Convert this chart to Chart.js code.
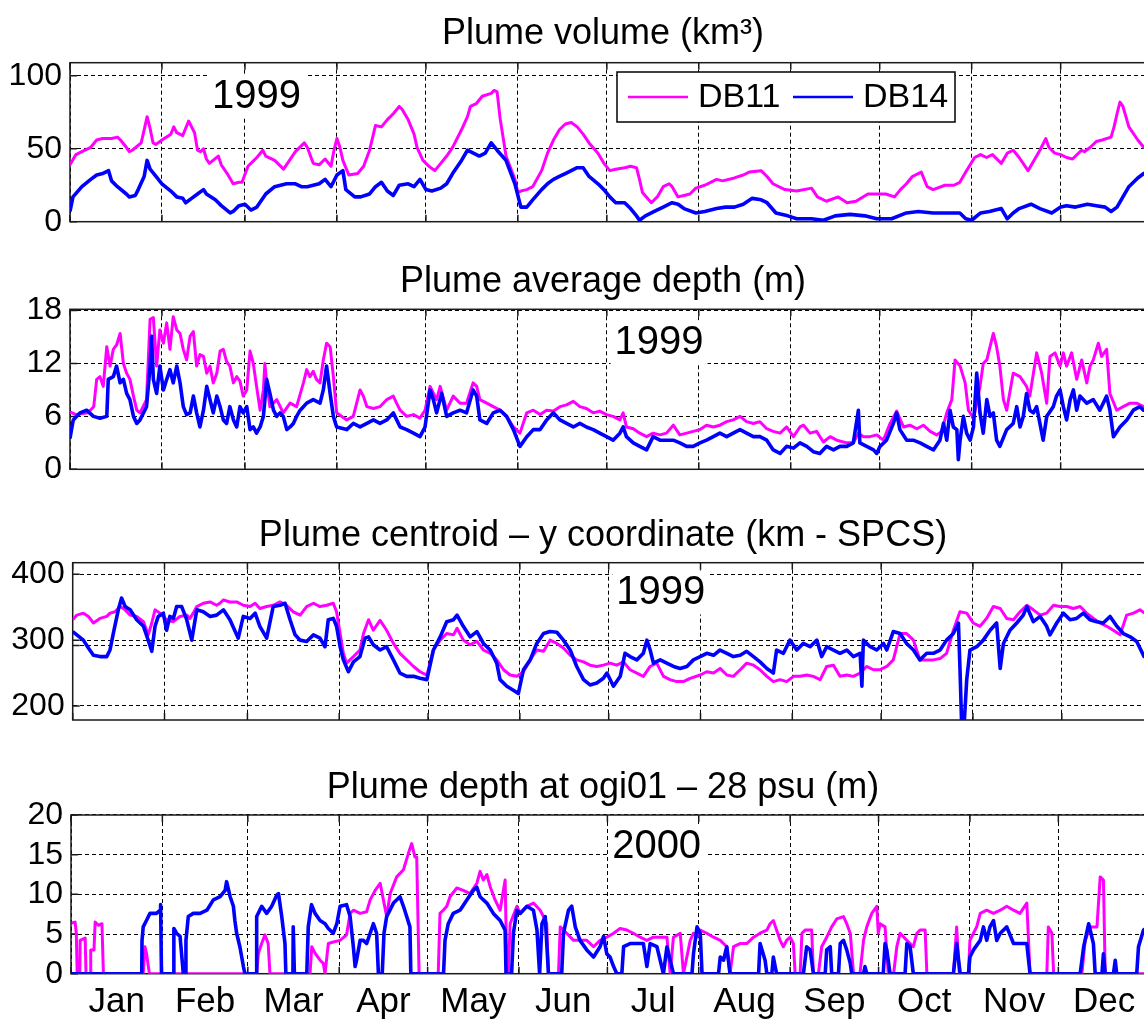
<!DOCTYPE html>
<html lang="en">
<head>
  <meta charset="UTF-8">
  <title>Plume metrics DB11 / DB14</title>
  <style>
    html, body {
      margin: 0;
      padding: 0;
      background: #fff;
      overflow: hidden;
      width: 1144px;
      height: 1023px;
    }
    canvas {
      position: absolute;
      left: 0;
    }
  </style>
</head>
<body>

  <canvas id="volume" width="1206" height="250" style="top:0px"></canvas>
  <canvas id="depth" width="1206" height="250" style="top:250px"></canvas>
  <canvas id="centroid" width="1206" height="255" style="top:500px"></canvas>
  <canvas id="ogi" width="1206" height="268" style="top:755px"></canvas>

  <script src="https://cdn.jsdelivr.net/npm/chart.js"></script>
  <script>
    const FONT = '"Liberation Sans", Arial, sans-serif';

    // x axis: day of year, gridlines at the first of every month
    const months = ['Jan', 'Feb', 'Mar', 'Apr', 'May', 'Jun', 'Jul', 'Aug', 'Sep', 'Oct', 'Nov', 'Dec'];
    const monthStarts1999 = [0, 31, 59, 90, 120, 151, 181, 212, 243, 273, 304, 334, 365];
    const monthStarts2000 = [0, 31, 60, 91, 121, 152, 182, 213, 244, 274, 305, 335, 366];

    const volumeTicks = [0, 50, 100];
    const depthTicks = [0, 6, 12, 18];
    const centroidTicks = [200, 292, 300, 400];
    const centroidTickLabels = ['200', '', '300', '400'];
    const ogiTicks = [0, 5, 10, 15, 20];

    // [day, value] pairs
    const volumeDB11 = [[0,39],[2,46],[4,48],[7,51],[9,56],[11,57],[14,57],[16,58],[17,56],[19,51],[20,48],[21,49],[24,54],[25,63],[26,72],[27,64],[28,54],[29,53],[31,56],[34,60],[35,65],[36,61],[38,59],[40,69],[42,61],[43,49],[44,48],[45,50],[46,43],[47,40],[50,45],[51,39],[53,33],[55,26],[57,27],[58,27],[60,38],[61,40],[63,44],[65,49],[66,45],[69,42],[72,36],[74,42],[76,48],[79,54],[80,51],[82,40],[84,39],[86,43],[88,38],[89,49],[90,57],[91,51],[92,42],[94,32],[97,33],[99,38],[101,49],[103,66],[105,65],[107,70],[109,74],[111,79],[112,77],[114,70],[116,60],[117,51],[119,42],[121,38],[123,35],[125,40],[127,45],[129,51],[132,63],[134,72],[135,79],[137,81],[139,86],[142,88],[143,90],[144,89],[145,71],[146,58],[147,45],[150,29],[151,20],[152,21],[154,22],[156,24],[159,35],[161,47],[163,56],[165,63],[167,67],[169,68],[171,65],[173,60],[175,54],[178,47],[180,40],[182,35],[184,36],[187,37],[189,38],[191,37],[192,29],[193,20],[196,13],[198,17],[200,24],[202,26],[203,24],[205,17],[207,18],[209,19],[211,23],[214,25],[216,27],[218,29],[220,28],[224,30],[227,32],[229,34],[233,35],[235,31],[237,26],[241,22],[245,21],[250,23],[252,17],[255,14],[259,17],[262,13],[265,14],[269,19],[272,19],[275,19],[278,17],[280,22],[282,26],[284,31],[287,34],[289,24],[291,22],[295,25],[298,25],[300,27],[302,34],[305,44],[307,46],[309,44],[311,46],[314,40],[316,47],[318,49],[320,44],[323,35],[325,42],[327,49],[329,57],[330,51],[332,47],[334,46],[336,44],[338,43],[341,49],[342,48],[344,51],[346,55],[348,56],[351,58],[352,65],[353,74],[354,82],[355,79],[356,72],[357,65],[360,56],[362,51],[365,52]];
    const volumeDB14 = [[0,7],[1,17],[4,24],[7,29],[9,32],[11,33],[13,35],[14,28],[16,24],[19,19],[20,17],[22,18],[23,22],[25,31],[26,42],[27,36],[29,31],[31,26],[34,21],[36,17],[38,16],[39,13],[41,16],[43,19],[45,22],[46,19],[49,15],[51,11],[54,6],[55,7],[57,11],[59,12],[61,8],[63,10],[66,19],[69,24],[71,25],[73,26],[76,26],[78,24],[80,24],[84,26],[86,29],[88,24],[90,32],[92,35],[93,22],[96,17],[98,17],[101,19],[103,24],[105,27],[107,21],[109,18],[111,25],[114,26],[116,24],[118,29],[120,22],[122,21],[125,23],[127,26],[129,33],[132,42],[134,49],[136,47],[138,45],[140,47],[142,54],[144,49],[147,42],[150,26],[152,10],[154,10],[156,15],[159,22],[161,26],[163,29],[165,31],[167,33],[169,35],[171,37],[173,37],[175,31],[178,26],[180,22],[182,17],[184,13],[187,13],[189,9],[191,4],[192,1],[194,4],[197,7],[200,10],[203,13],[205,12],[207,9],[211,6],[214,7],[218,9],[221,10],[224,10],[227,12],[230,16],[233,15],[235,13],[238,6],[242,4],[245,2],[250,2],[254,1],[258,4],[263,5],[268,4],[272,2],[277,2],[282,6],[286,7],[291,6],[295,6],[300,6],[302,2],[304,1],[307,6],[310,7],[314,9],[316,2],[318,6],[320,9],[324,12],[327,9],[331,6],[334,10],[336,11],[339,10],[343,12],[346,11],[349,10],[351,7],[353,10],[355,17],[357,24],[360,30],[362,33],[365,36]];

    const depthDB11 = [[0,6.5],[2,6.2],[6,6.4],[8,7.1],[9,10.2],[10.1,10.5],[11.2,9.4],[12.4,13.9],[13.5,11.7],[14.6,13.6],[15.7,14.1],[16.9,15.4],[18,12],[19.1,10.9],[20.2,10.2],[21.4,8.3],[22.5,6.7],[23.6,6.4],[25.8,7.9],[27,17],[28.1,17.2],[29.2,11.7],[30.3,15.8],[31.5,14.3],[32.6,16.6],[33.7,13.6],[34.8,17.3],[36,15.8],[37.1,15.4],[38.2,13.6],[39.3,12.4],[40.5,15.1],[41.6,15.6],[42.7,11.7],[43.8,13],[45,12.8],[46.1,10.9],[47.2,11.7],[48.3,9.8],[49.5,10.9],[50.6,13.4],[51.7,13.6],[52.8,12.2],[53.9,11.7],[55.1,9.8],[56.2,10.5],[57.3,10],[58.4,8.3],[59.6,9],[60.7,13.4],[61.8,12],[62.9,9.4],[64.1,6.7],[65.2,9],[65.7,12],[66.3,9.8],[67.4,7.1],[69.7,7.9],[71.9,6.4],[74.2,7.5],[76.4,7.1],[78.7,9.8],[79.8,11.3],[80.9,10.5],[82,11.1],[83.1,10.2],[84.3,9.8],[85.4,12.4],[86.5,14.3],[87.7,13.9],[88.8,10.5],[89.9,6.4],[93.3,5.6],[95.5,6],[97.8,9],[98.9,8.3],[100.1,7.1],[102.3,6.9],[104.5,7.1],[106.8,7.9],[109,8.3],[110.1,7.5],[111.3,6.7],[113.5,6],[115.8,6.2],[118,5.8],[119.7,6.7],[121.4,9.4],[123.6,7.9],[124.8,9.4],[127,6.7],[129.2,8.3],[131.5,7.5],[133.7,7.5],[135.9,9.8],[137.1,9.4],[138.2,7.9],[140.5,7.5],[142.7,7.1],[145,6.7],[147.2,6],[149.5,4.8],[151.7,4.1],[154,6.4],[156.2,6.7],[158.5,6.2],[160.7,6.7],[163,6.6],[165.2,7.1],[167.4,7.3],[169.7,7.7],[171.9,7.1],[174.1,6.9],[176.4,6.4],[178.6,6.6],[180.9,6.2],[183.1,6],[185.4,5.6],[186.5,6.4],[187.6,4.8],[189.9,4.6],[192.1,4.1],[194.4,3.7],[196.6,4.1],[198.9,3.9],[201.1,4.1],[203.4,5],[205.6,3.9],[207.9,4.1],[210.1,4.3],[212.4,4.5],[214.6,5],[216.9,4.8],[219.1,5],[221.4,5.4],[223.6,5.6],[225.9,6],[228.1,5.4],[230.4,5.2],[232.6,5.4],[234.9,4.6],[237.1,4.3],[239.4,4.1],[241.6,4.8],[243.9,3.7],[246.1,4.8],[247.3,5],[249.5,4.1],[251.7,4.3],[254,3.1],[256.3,3.7],[258.5,3.3],[261.9,3],[264.1,3],[265.8,4.1],[267.5,3.7],[269.7,3.7],[272,3.9],[274.2,3.3],[276.5,5.2],[278.7,6.6],[281,4.8],[283.2,5],[285.5,4.6],[287.7,5],[290,4.3],[292.2,3.9],[293.9,4.3],[295.6,6.4],[297.3,7.9],[298.4,12.4],[300.1,11.7],[301.8,9.8],[302.9,6.7],[304.6,5.8],[305.7,7.5],[306.8,9.4],[307.9,12],[309.1,12.4],[310.2,13.9],[311.3,15.4],[312.4,13.9],[313.5,11.7],[314.7,7.9],[315.8,6.7],[318,10.9],[320.3,10.5],[322.5,9.4],[323.6,8.3],[325.9,13.2],[327.6,10.9],[329.3,7.5],[330.4,12.8],[332.1,13.2],[333.8,11.7],[334.9,13.2],[336,11.7],[337.7,13.2],[339.4,10.2],[341.1,12.4],[342.8,9.8],[343.9,11.7],[345,12.4],[346.7,14.3],[347.8,12.8],[349.5,13.6],[350.6,8.6],[352.9,6.7],[355.1,7.1],[357.4,7.5],[359.6,7.5],[361.9,7.1],[365,7]];
    const depthDB14 = [[0,3.5],[0.5,4.5],[1.1,5.6],[3.4,6.4],[5.6,6.7],[7.9,6],[10.1,5.8],[12.4,6],[12.9,10.2],[14.6,10.5],[15.7,11.7],[16.9,9.8],[18,10.2],[19.1,8.6],[20.2,7.9],[21.4,6],[22.5,5.2],[23.6,5.6],[25.8,7.1],[27,11.7],[27.5,15.1],[28.1,10.2],[29.2,8.6],[30.3,11.7],[31.5,9],[32.6,10.2],[33.7,11.3],[34.8,9.8],[36,11.7],[37.1,9.8],[38.2,7.1],[39.3,6.2],[40.5,6.4],[41.6,8.3],[42.7,6.4],[43.8,4.8],[45,6.7],[46.1,9.4],[47.2,7.9],[48.3,6.4],[49.5,8.3],[50.6,7.1],[51.7,5.6],[52.8,5.2],[53.9,7.1],[55.1,5.6],[56.2,4.8],[57.3,7.1],[58.4,6.4],[59.6,7.1],[60.7,4.5],[61.8,4.8],[62.9,4.1],[64.1,4.8],[65.2,6],[66.3,10.2],[67.4,8.6],[68.6,6.7],[69.7,6],[70.8,6.4],[71.9,6],[73.1,4.5],[74.2,4.8],[75.3,5.2],[76.4,6],[77.6,6.7],[78.7,7.1],[79.8,7.5],[82,7.9],[84.3,7.5],[85.4,9],[86.5,11.7],[87.7,8.6],[88.8,6],[89.9,4.8],[93.3,4.5],[95.5,5.2],[97.8,4.8],[100.1,5.2],[102.3,5.6],[104.5,5.2],[106.8,5.6],[109,6.4],[111.3,4.8],[113.5,4.5],[115.8,4.1],[118,3.7],[119.7,4.8],[121.4,9],[122.5,7.9],[123.6,6.4],[125.3,8.6],[127,6],[129.2,6.4],[131.5,6.7],[133.7,6.4],[135.9,9],[137.1,8.3],[138.2,5.6],[140.5,5.2],[142.7,6.4],[145,6.7],[147.2,6],[149.5,4.5],[151.7,2.6],[154,3.7],[156.2,4.5],[158.5,4.5],[160.7,5.6],[163,6.4],[165.2,5.6],[167.4,5.2],[169.7,4.8],[171.9,5.2],[174.1,4.8],[176.4,4.5],[178.6,4.1],[180.9,3.7],[183.1,3.3],[185.4,4.1],[186.5,4.8],[187.6,3.7],[189.9,3],[192.1,2.6],[194.4,2.2],[196.6,3.7],[198.9,3.3],[201.1,3.3],[203.4,3.3],[205.6,3],[207.9,2.6],[210.1,2.6],[212.4,3],[214.6,3.3],[216.9,3.7],[219.1,4.1],[221.4,3.7],[223.6,4.1],[225.9,4.5],[228.1,4.1],[230.4,3.7],[232.6,3.7],[234.9,3.3],[237.1,2.2],[239.4,1.8],[241.6,2.6],[243.9,2.4],[246.1,3],[248.4,2.6],[250.6,2],[252.8,1.8],[255.1,2.6],[257.4,2.2],[259.6,2.6],[261.9,2.6],[264.1,3],[265.8,6.7],[266.3,3],[268.6,2.6],[270.9,2.2],[272,1.8],[273.1,2.6],[275.3,3.3],[277.6,5.2],[278.7,6.4],[279.8,4.5],[282.1,3.3],[284.3,3.3],[286.6,3],[288.8,2.6],[291.1,2.2],[293.3,3.3],[294.5,5.2],[295.6,3.3],[296.7,6.7],[297.8,4.8],[299,4.5],[299.5,1.1],[300.1,3.3],[301.2,6],[302.3,4.1],[303.5,3.3],[304.6,4.8],[305.7,10.9],[306.8,6.4],[307.9,4.1],[309.1,7.9],[310.2,6],[311.3,6.4],[312.4,3.3],[313.5,2.6],[315.8,4.5],[318,5.2],[319.2,7.1],[320.3,4.8],[321.4,6],[322.5,8.6],[323.6,6.7],[324.8,6.4],[325.9,7.1],[328.1,3.3],[329.3,6],[331.5,7.1],[332.6,8.3],[333.8,9],[334.9,7.1],[336,5.6],[337.2,7.9],[338.3,9],[339.4,6.7],[340.5,8.3],[342.8,7.5],[345,7.9],[347.2,6.7],[349.5,8.3],[350.6,6.7],[351.8,3.7],[354,4.8],[356.3,5.6],[358.5,6.7],[360.7,7.1],[361.9,6.7],[365,6.8]];

    const centroidDB11 = [[0,331],[1.4,338],[3.6,341],[5.3,336],[7,326],[9.2,333],[11.5,336],[12.6,341],[14.3,343],[16,351],[17.7,346],[19.4,338],[21.6,336],[23.9,328],[25.5,308],[26.7,326],[27.8,346],[29.5,341],[31.7,331],[34,328],[36.2,336],[38.5,338],[39.6,333],[40.7,341],[41.9,351],[44.1,356],[46.4,358],[48.6,353],[49.7,356],[50.9,361],[53.1,358],[55.4,358],[57.6,353],[59.9,351],[61.6,356],[63.2,348],[65.5,351],[67.7,353],[70,358],[72.2,353],[74.5,343],[76.8,338],[79,351],[81.3,356],[83.5,351],[85.8,353],[88,356],[89.1,343],[90.3,310],[91.4,280],[92.5,265],[94.8,275],[97,285],[98.2,310],[99.9,331],[101.5,315],[103.8,330],[106,315],[108.3,295],[110.5,280],[112.8,270],[115.1,260],[117.3,252],[119.6,247],[121.8,285],[124.1,300],[126.3,310],[128.6,308],[129.8,318],[131.9,300],[134.2,293],[136.5,298],[138.7,285],[141,280],[143.2,270],[145.5,255],[147.7,247],[150,245],[152.2,252],[154.5,270],[156.7,285],[159,283],[161.2,300],[163.5,295],[165.7,288],[168,277],[170.2,270],[172.5,267],[174.7,262],[177,260],[179.2,262],[181.5,265],[183.7,262],[186,267],[188.2,255],[190.5,250],[192.7,245],[195,260],[197.2,265],[199.5,245],[201.7,240],[204,237],[206.2,237],[208.5,242],[211.9,247],[214.1,252],[216.4,250],[218.6,257],[220.9,247],[223.1,245],[225.4,255],[227.6,265],[229.9,262],[232.1,255],[234.4,245],[236.6,237],[238.9,240],[241.1,237],[243.4,245],[245.6,245],[247.9,247],[250.1,245],[252.4,240],[254.6,260],[256.9,262],[259.1,245],[261.4,247],[263.6,245],[265.9,250],[268.1,260],[270.4,255],[272.6,255],[274.9,260],[277.1,270],[279.4,310],[281.6,310],[283.9,300],[286.1,270],[288.4,270],[290.6,270],[292.9,272],[295.1,280],[297.4,315],[299.6,343],[301.9,341],[304.1,326],[306.4,321],[308.6,333],[310.9,351],[313.2,348],[315.4,333],[317.7,331],[319.9,343],[322.2,353],[324.4,346],[326.7,338],[328.9,341],[331.2,353],[333.4,351],[335.7,351],[337.9,348],[340.2,351],[342.4,341],[344.7,333],[346.9,326],[349.2,321],[351.4,315],[353.7,308],[355.9,338],[358.2,341],[360.4,346],[362,341],[365,340]];
    const centroidDB14 = [[0,313],[1.4,308],[3.6,300],[5.3,288],[7,277],[9.2,275],[11.5,275],[12.6,285],[13.7,310],[15.4,346],[16.5,364],[17.7,351],[19.4,346],[21.6,331],[23.9,321],[25.5,300],[26.7,283],[27.8,321],[28.9,336],[30.6,341],[31.7,315],[32.8,336],[34,333],[35.1,351],[36.8,351],[38.5,331],[40.2,300],[41.9,346],[44.1,343],[46.4,336],[48.6,338],[50.9,346],[53.1,331],[55.9,303],[57.6,336],[59.9,333],[61.6,341],[63.2,321],[65.5,303],[67.7,351],[70,353],[71.7,356],[73.4,331],[75.1,308],[76.8,300],[79,298],[81.3,308],[83.5,303],[85.2,290],[86.3,331],[88,333],[89.1,321],[90.3,290],[91.4,270],[93.1,252],[94.8,267],[97,275],[98.7,303],[99.9,305],[101.5,293],[103.8,285],[106,290],[108.3,270],[110.5,250],[112.8,245],[115.1,245],[117.3,242],[119.6,240],[121.8,285],[124.1,305],[126.3,328],[128.6,331],[129.8,338],[131.9,321],[134.2,305],[136.5,313],[138.7,295],[141,285],[143.2,265],[144.3,240],[146.6,230],[148.8,224],[150.5,219],[152.2,255],[154.5,270],[156.7,295],[159,310],[161.2,313],[163.5,312],[165.7,300],[168,285],[170.2,260],[172.5,240],[174.7,232],[177,235],[179.2,242],[180.4,250],[182.6,230],[184.9,245],[186.5,280],[188.2,275],[190.5,270],[192.7,280],[193.9,300],[195,285],[196.1,265],[198.4,270],[200.6,265],[202.9,260],[205.1,257],[207.4,260],[209.6,270],[211.9,275],[214.1,280],[216.4,277],[218.6,285],[220.9,280],[223.1,275],[225.4,277],[227.6,283],[229.9,275],[232.1,267],[234.4,257],[236.6,250],[237.7,285],[240,280],[242.2,300],[244.5,285],[246.7,295],[249,290],[251.3,300],[252.9,275],[254.6,290],[256.9,285],[259.1,280],[261.4,285],[263.6,275],[265.9,280],[266.5,230],[267,300],[269.3,290],[271.5,285],[273.8,295],[274.9,285],[277.1,313],[279.4,310],[281.6,295],[283.9,285],[286.1,270],[288.4,280],[290.6,280],[292.9,285],[295.1,300],[297.4,310],[299.1,326],[299.6,260],[300.2,170],[301,170],[301.9,240],[303,285],[305.3,290],[307.5,300],[309.8,315],[312,326],[313.2,257],[314.3,295],[316.5,315],[318.8,326],[321,338],[322.2,351],[324.4,328],[326.7,336],[328.9,321],[330,308],[332.3,326],[334.5,341],[336.8,331],[339,333],[341.3,341],[343.5,331],[345.8,328],[348,326],[350.3,336],[352.6,321],[354.8,310],[357.1,305],[359.3,298],[361.8,275],[365,270]];

    const ogiDB11 = [[0.2,6.4],[1.4,6.5],[1.8,5.1],[2.1,0],[3,0],[3.1,4.2],[4.8,4.5],[5.1,0],[6.6,0],[6.7,3],[7.8,3],[8.2,6.5],[9.3,6.1],[10.5,6.3],[11,0],[24.5,0],[25.1,3.4],[25.6,2.6],[26.6,0],[63,0],[63.6,2.6],[64.7,3.8],[65.8,4.9],[66.9,3.8],[67.5,0],[81.1,0],[81.7,3.4],[82.8,2.6],[84.5,1.7],[85.6,1.3],[86.2,0],[87.3,3.8],[89,4],[91.3,4.2],[93.5,4.9],[94.7,7.6],[95.8,8],[98.1,7.6],[100.3,7.8],[101.5,9.3],[103.2,10.5],[104.9,11.4],[106,9.3],[107.1,7.2],[108.3,10.1],[110.5,12.2],[112.8,13.1],[114.5,15.2],[115.6,16.4],[116.7,14.7],[117.3,14.7],[118.1,0],[124.6,0],[125.2,7.6],[126.3,8],[127.5,8.5],[128.6,9.7],[130.9,10.8],[133.1,10.5],[135.4,10.1],[137.7,11.4],[138.8,12.9],[139.9,11.8],[141.1,12.5],[142.2,11],[143.9,9.3],[145.6,8],[147.3,11.8],[147.9,0],[148.4,0],[149,6.3],[151.3,8.5],[152.4,7.6],[154.7,8.5],[156.9,8.9],[159.2,8],[160.3,7.2],[161.4,6.3],[162,0],[165.4,0],[166,5.9],[168.2,5.1],[170.5,4.2],[172.7,4.2],[175,4.2],[177.3,3.4],[179.5,4.2],[181.8,4.6],[184.1,5.1],[186.3,5.7],[188.6,5.5],[190.8,5.1],[193.1,4.6],[195.4,4.2],[197.6,4.6],[199.9,4.6],[202.2,4.6],[203.3,0],[204.4,4.6],[206.7,5.1],[207.8,0],[210.1,4.2],[211.2,5.1],[212.4,4.6],[213.5,5.5],[215.7,5.1],[218,4.6],[220.3,4.2],[222.5,3.4],[223.6,0],[224.8,3.4],[227,3.8],[229.3,3.8],[231.6,4.6],[233.8,5.1],[236.1,5.5],[237.2,6.3],[238.3,6.7],[239.4,5.5],[240.6,4.2],[241.7,3.4],[242.8,4.2],[244,4.6],[245.1,3.8],[245.7,0],[247.4,0],[248,5.1],[249.1,5.5],[251.3,5.5],[251.9,0],[253.6,0],[254.7,3.4],[256.4,4.6],[258.1,5.9],[259.8,6.9],[262.1,7.2],[263.2,6.3],[264.4,5.1],[265.5,0],[267.7,0],[268.9,4.2],[270,5.9],[271.7,7.6],[273.4,8.5],[273.9,5.1],[274.5,6.3],[276.2,5.9],[277.3,0],[279.1,0],[280.2,3.4],[281.3,5.1],[283.6,4.2],[285.8,3.4],[287,5.1],[288.1,5.5],[289.8,5.5],[290.4,0],[299.4,0],[300.5,5.9],[301.4,0],[304.5,0],[305,4.2],[306.2,5.1],[307.3,5.9],[308.5,7.6],[310.7,8],[313,7.6],[315.3,8],[317.5,8.5],[319.8,8],[322,7.6],[324.3,8.9],[325.4,0],[331.1,0],[331.6,5.9],[332.8,5.1],[333.4,0],[343,0],[344.1,4.2],[345.8,5.9],[348.1,5.9],[349.2,12.2],[350.3,11.8],[350.9,0],[366,0]];
    const ogiDB14 = [[0,0],[24,0],[24.1,4.2],[24.5,5.9],[25.6,6.7],[26.8,7.6],[29,7.6],[30.2,8],[30.4,8.7],[30.7,0],[34.7,0],[34.9,5.7],[35.8,5.1],[37,4.7],[37.5,2.6],[38.1,0],[38.9,0],[39,4.2],[39.8,7.2],[41.5,7.6],[43.8,7.6],[46.1,8],[48.3,9.3],[50.6,9.7],[52.3,10.5],[52.8,11.6],[54,9.7],[55.1,8.5],[55.6,6.7],[56.2,5.1],[57.3,3.4],[58.5,0.9],[59,0],[62.8,0],[63,7.2],[64.7,8.5],[66.4,7.6],[68.1,8.5],[69.8,9.9],[70.4,10.1],[71.5,7.2],[72.6,3.8],[72.9,0],[75.3,0],[75.4,5.9],[75.8,0],[80,0],[80.5,5.9],[81.6,8.7],[82.8,7.6],[84.5,6.7],[86.2,6.3],[87.3,5.7],[89,5.1],[90.2,6.3],[91.3,8.5],[93.5,8.7],[94.7,7.2],[95.8,3.4],[96.4,0.9],[96.9,1.7],[98.1,4.2],[99.2,4.2],[100.3,3.8],[102.6,6.3],[103.7,5.1],[104.3,0],[105.6,0],[106.2,5.1],[107.1,7.2],[109.4,8.9],[111.6,9.7],[112.8,8.5],[113.9,7.2],[115,5.9],[115.3,0],[126.4,0],[126.9,4.2],[128,6.3],[129.7,7.6],[132,8],[134.3,9.3],[136.5,10.5],[137.7,10.9],[138.8,9.7],[141.1,8.9],[143.3,7.6],[145.6,6.7],[147.3,5.5],[147.6,0],[149.5,0],[150.1,5.1],[151.3,8],[152.4,7.6],[154.7,8.5],[156.9,8],[158.1,5.5],[159,0],[159.8,6.3],[160.9,7.2],[162,0],[166.5,0],[167.1,5.1],[168.8,8],[169.9,8.5],[171.1,5.9],[172.7,4.2],[175,3],[177.3,2.1],[179.5,3.4],[180.7,4.7],[181.8,2.5],[182.9,2.1],[184.1,0.9],[185.2,0],[186.9,0],[187.5,3.4],[189.7,3.8],[192,3.8],[194.2,3.8],[195.4,0.9],[196.5,3.8],[198.8,3.4],[201,0],[202.2,3.4],[203.3,1.7],[204.4,0],[210.7,0],[211.2,2.5],[212.4,5.9],[213.5,5.1],[214.1,0],[219.7,0],[220.3,2.1],[221.4,1.7],[222.5,3.4],[223.6,0],[233.3,0],[233.8,3.8],[235.5,1.7],[236.1,0],[237.8,0],[238.3,2.1],[239.4,0],[248.5,0],[249.6,3.4],[250.8,3],[251.9,0],[255.9,0],[256.4,3],[257.6,3.4],[258.1,0],[260.4,0],[261,3.8],[262.1,4.2],[263.2,3],[264.4,1.3],[264.9,0],[268.9,0],[269.4,0.9],[270,0],[275.6,0],[276.2,3.8],[276.8,3],[277.9,0],[283,0],[283.6,3.8],[284.7,3.4],[285.8,0],[299.4,0],[300.5,3.8],[301.7,0],[304.5,0],[305,2.1],[306.2,3],[308.5,4.2],[309.6,5.9],[310.7,4.2],[311.8,5.9],[313,6.7],[314.1,4.2],[315.3,5.1],[317.5,5.9],[319.8,3.8],[322,3.8],[324.3,3.8],[325.4,0],[342.4,0],[343.6,3.4],[345.3,6.3],[346.9,3.8],[347.5,0],[349.8,0],[350.3,2.5],[350.9,0],[353.7,0],[354.3,1.7],[354.8,0],[361.6,0],[362.2,3.4],[363.9,5.5],[366,6]];

    // plot frame and inward tick marks, drawn under the lines
    const framePlugin = {
      id: 'frame',
      beforeDatasetsDraw(chart) {
        const { ctx, chartArea: a, scales } = chart;
        ctx.save();
        ctx.strokeStyle = '#1a1a1a';
        ctx.lineWidth = 1.5;
        ctx.strokeRect(a.left, a.top, a.right - a.left, a.bottom - a.top);
        ctx.beginPath();
        scales.x.ticks.forEach(t => {
          const x = scales.x.getPixelForValue(t.value);
          ctx.moveTo(x, a.top); ctx.lineTo(x, a.top + 7);
          ctx.moveTo(x, a.bottom); ctx.lineTo(x, a.bottom - 7);
        });
        scales.y.ticks.forEach(t => {
          const y = scales.y.getPixelForValue(t.value);
          ctx.moveTo(a.left, y); ctx.lineTo(a.left + 7, y);
        });
        ctx.stroke();
        ctx.restore();
      }
    };

    // year stamp and legend box, drawn over the lines
    const decoPlugin = {
      id: 'deco',
      afterDatasetsDraw(chart, args, o) {
        const { ctx, scales } = chart;
        ctx.save();
        if (o.year) {
          const px = scales.x.getPixelForValue(o.year.x);
          const py = scales.y.getPixelForValue(o.year.y);
          ctx.font = '40px ' + FONT;
          const w = ctx.measureText(o.year.text).width + 8;
          ctx.fillStyle = '#fff';
          ctx.fillRect(px - w / 2, py - 22, w, 44);
          ctx.fillStyle = '#000';
          ctx.textAlign = 'center';
          ctx.textBaseline = 'middle';
          ctx.fillText(o.year.text, px, py + 1);
        }
        if (o.legend) {
          const L = o.legend;
          ctx.fillStyle = '#fff';
          ctx.fillRect(L.x, L.y, L.w, L.h);
          ctx.strokeStyle = '#000';
          ctx.lineWidth = 1.5;
          ctx.strokeRect(L.x, L.y, L.w, L.h);
          ctx.font = '34px ' + FONT;
          ctx.textAlign = 'left';
          ctx.textBaseline = 'middle';
          chart.data.datasets.forEach((ds, i) => {
            const x0 = L.x + L.itemX[i], cy = L.y + L.h / 2;
            ctx.strokeStyle = ds.borderColor;
            ctx.lineWidth = 2.5;
            ctx.beginPath();
            ctx.moveTo(x0, cy);
            ctx.lineTo(x0 + 60, cy);
            ctx.stroke();
            ctx.fillStyle = '#000';
            ctx.fillText(ds.label, x0 + 70, cy + 1);
          });
        }
        ctx.restore();
      }
    };

    function makePanel(id, p) {
      const toXY = arr => arr.map(([x, y]) => ({ x, y }));
      new Chart(document.getElementById(id), {
        type: 'line',
        data: {
          datasets: [
            { label: 'DB11', data: toXY(p.db11), borderColor: '#ff00ff', borderWidth: 3, order: 1, xAxisID: 'x', yAxisID: 'y' },
            { label: 'DB14', data: toXY(p.db14), borderColor: '#0000ff', borderWidth: 3.6, order: 0, xAxisID: 'x', yAxisID: 'y' }
          ]
        },
        options: {
          responsive: false,
          animation: false,
          events: [],
          layout: { padding: 0 },
          elements: {
            point: { radius: 0 },
            line: { tension: 0, fill: false, borderJoinStyle: 'round' }
          },
          scales: {
            x: {
              type: 'linear', min: 0, max: p.xMax,
              afterBuildTicks: s => { s.ticks = p.monthStarts.map(v => ({ value: v })); },
              afterFit: s => { s.height = 0; },
              ticks: { display: false },
              grid: { color: '#000', lineWidth: 1, drawTicks: false },
              border: { display: false, dash: [4, 3] }
            },
            xl: {
              type: 'linear', position: 'bottom', min: 0, max: p.xMax,
              afterBuildTicks: s => {
                s.ticks = months.map((m, i) => ({ value: (p.monthStarts[i] + p.monthStarts[i + 1]) / 2 }));
              },
              afterFit: s => { s.height = p.bottomSpace; },
              ticks: {
                display: !!p.showMonths, autoSkip: false, maxRotation: 0, padding: 8,
                color: '#000', font: { family: FONT, size: 35 },
                callback: (v, i) => months[i]
              },
              grid: { display: false, drawTicks: false },
              border: { display: false }
            },
            y: {
              type: 'linear', min: p.yMin, max: p.yMax,
              afterBuildTicks: s => { s.ticks = p.yTicks.map(v => ({ value: v })); },
              afterFit: s => { s.width = p.plotLeft; },
              ticks: {
                autoSkip: false, padding: 8, color: '#000',
                font: { family: FONT, size: 32 },
                callback: (v, i) => (p.yLabels ? p.yLabels[i] : String(v))
              },
              grid: { color: '#000', lineWidth: 1, drawTicks: false },
              border: { display: false, dash: [4, 3] }
            }
          },
          plugins: {
            legend: { display: false },
            tooltip: { enabled: false },
            title: {
              display: true, text: p.title, color: '#000',
              font: { family: FONT, size: 36, weight: 'normal', lineHeight: 1.2 },
              padding: { top: p.titleY - 21.6, bottom: p.plotTop - p.titleY - 21.6 }
            },
            deco: { year: p.year, legend: p.legend }
          }
        },
        plugins: [framePlugin, decoPlugin]
      });
    }

    makePanel('volume', {
      title: 'Plume volume (km³)', titleY: 34, plotTop: 62.7, bottomSpace: 28.3,
      plotLeft: 70, xMax: 383.0, monthStarts: monthStarts1999,
      yMin: 0, yMax: 109, yTicks: volumeTicks,
      db11: volumeDB11, db14: volumeDB14,
      year: { text: '1999', x: 62.9, y: 86 },
      legend: { x: 617, y: 72, w: 338, h: 50, itemX: [11, 176] }
    });

    makePanel('depth', {
      title: 'Plume average depth (m)', titleY: 32, plotTop: 59.3, bottomSpace: 30.7,
      plotLeft: 70, xMax: 383.0, monthStarts: monthStarts1999,
      yMin: 0, yMax: 18.14, yTicks: depthTicks,
      db11: depthDB11, db14: depthDB14,
      year: { text: '1999', x: 198.6, y: 14.4 }
    });

    makePanel('centroid', {
      title: 'Plume centroid – y coordinate (km - SPCS)', titleY: 36, plotTop: 62.7, bottomSpace: 35,
      plotLeft: 72.7, xMax: 382.7, monthStarts: monthStarts1999,
      yMin: 178.7, yMax: 417.6, yTicks: centroidTicks, yLabels: centroidTickLabels,
      db11: centroidDB11, db14: centroidDB14,
      year: { text: '1999', x: 198.6, y: 372.4 }
    });

    makePanel('ogi', {
      title: 'Plume depth at ogi01 – 28 psu (m)', titleY: 33, plotTop: 60, bottomSpace: 49.3,
      plotLeft: 71, xMax: 385.1, monthStarts: monthStarts2000, showMonths: true,
      yMin: 0, yMax: 20, yTicks: ogiTicks,
      db11: ogiDB11, db14: ogiDB14,
      year: { text: '2000', x: 198.7, y: 16.1 }
    });
  </script>

</body>
</html>
